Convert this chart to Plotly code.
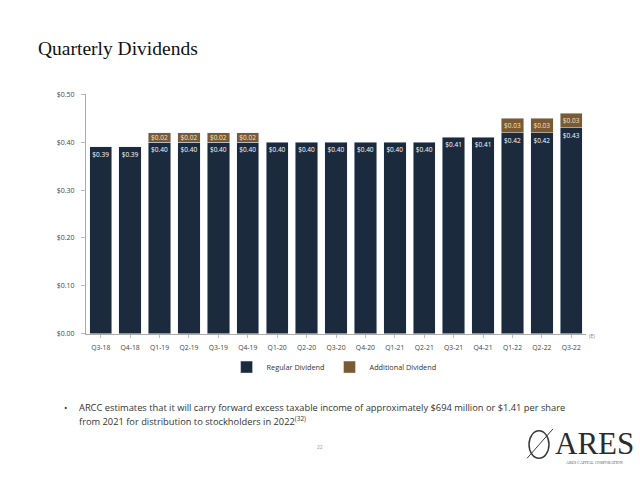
import plotly.graph_objects as go

quarters = ["Q3-18", "Q4-18", "Q1-19", "Q2-19", "Q3-19", "Q4-19", "Q1-20", "Q2-20", "Q3-20",
            "Q4-20", "Q1-21", "Q2-21", "Q3-21", "Q4-21", "Q1-22", "Q2-22", "Q3-22"]
regular = [0.39, 0.39, 0.40, 0.40, 0.40, 0.40, 0.40, 0.40, 0.40,
           0.40, 0.40, 0.40, 0.41, 0.41, 0.42, 0.42, 0.43]
additional = [None, None, 0.02, 0.02, 0.02, 0.02, None, None, None,
              None, None, None, None, None, 0.03, 0.03, 0.03]
y_ticks = [0.0, 0.1, 0.2, 0.3, 0.4, 0.5]

NAVY = "#1b2a3d"
BROWN = "#7a5a33"
FONT = "Open Sans"

fig = go.Figure()
fig.add_trace(go.Bar(
    x=quarters, y=regular, name="Regular Dividend", marker_color=NAVY,
    texttemplate="$%{y:.2f}", textposition="inside", insidetextanchor="end", textangle=0,
    constraintext="none", textfont=dict(color="white", size=6.5, family=FONT),
))
add_x = [q for q, a in zip(quarters, additional) if a]
add_y = [a for a in additional if a]
fig.add_trace(go.Bar(
    x=add_x, y=add_y, name="Additional Dividend", marker_color=BROWN,
    texttemplate="$%{y:.2f}", textposition="inside", textangle=0,
    insidetextanchor="middle", constraintext="none",
    textfont=dict(color="#f3e6c8", size=6.5, family=FONT),
))

x0, x1 = 86 / 640, 586 / 640
fig.update_layout(
    width=640, height=480, barmode="stack", bargap=0.24,
    margin=dict(l=0, r=0, t=0, b=0),
    paper_bgcolor="white", plot_bgcolor="white",
    font=dict(family=FONT, size=7, color="#444"),
    xaxis=dict(domain=[x0, x1], showline=True, linecolor="#aaa", linewidth=1,
               categoryorder="array", categoryarray=quarters,
               ticks="outside", ticklen=3, tickcolor="#bbb", ticklabelstandoff=4,
               tickfont=dict(size=6.8, color="#444", family=FONT)),
    yaxis=dict(domain=[1 - 335 / 480, 1 - 91 / 480], range=[0, 0.5],
               tickvals=y_ticks, ticktext=[f"${v:.2f}" for v in y_ticks],
               showline=True, linecolor="#aaa", linewidth=1, ticks="outside",
               ticklen=4, tickcolor="#bbb", showgrid=False, zeroline=False,
               ticklabelstandoff=5,
               tickfont=dict(size=7, color="#444", family=FONT)),
    showlegend=True,
    legend=dict(orientation="h", x=0.522, xanchor="center", y=1 - 369 / 480, yanchor="middle",
                font=dict(size=7.3, color="#333", family=FONT), itemwidth=30,
                traceorder="normal"),
)

fig.add_annotation(text="Quarterly Dividends", x=36 / 640, y=1 - 44 / 480, xref="paper", yref="paper",
                   xanchor="left", yanchor="middle", showarrow=False,
                   font=dict(family="Liberation Serif", size=19.5, color="#111"))
fig.add_annotation(text="(E)", x=592 / 640, y=1 - 337 / 480, xref="paper", yref="paper",
                   xanchor="center", yanchor="middle", showarrow=False,
                   font=dict(size=5, color="#777"))
fig.add_annotation(text="•", x=62 / 640, y=1 - 410 / 480, xref="paper", yref="paper",
                   xanchor="left", yanchor="middle", showarrow=False,
                   font=dict(size=9, color="#333", family=FONT))
fig.add_annotation(
    text="ARCC estimates that it will carry forward excess taxable income of approximately $694 million or $1.41 per share",
    x=77 / 640, y=1 - 410 / 480, xref="paper", yref="paper", xanchor="left", yanchor="middle",
    showarrow=False, font=dict(size=9.3, color="#333", family=FONT))
fig.add_annotation(
    text="from 2021 for distribution to stockholders in 2022<sup>(32)</sup>",
    x=77 / 640, y=1 - 424 / 480, xref="paper", yref="paper", xanchor="left", yanchor="middle",
    showarrow=False, font=dict(size=9.3, color="#333", family=FONT))
fig.add_annotation(text="22", x=320 / 640, y=1 - 456 / 480, xref="paper", yref="paper",
                   showarrow=False, font=dict(size=5, color="#999", family=FONT))
# logo
fig.add_shape(type="circle", xref="paper", yref="paper",
              x0=529 / 640, x1=549 / 640, y0=1 - 462 / 480, y1=1 - 434 / 480,
              line=dict(color="#3a3a3a", width=1.5))
fig.add_shape(type="line", xref="paper", yref="paper",
              x0=527 / 640, x1=553 / 640, y0=1 - 462 / 480, y1=1 - 432 / 480,
              line=dict(color="#3a3a3a", width=1))
fig.add_annotation(text="ARES", x=553 / 640, y=1 - 447 / 480, xref="paper", yref="paper",
                   xanchor="left", yanchor="middle", showarrow=False,
                   font=dict(family="Liberation Serif", size=31, color="#2b2b2b"))
fig.add_annotation(text="ARES CAPITAL CORPORATION", x=594 / 640, y=1 - 466 / 480, xref="paper", yref="paper",
                   xanchor="center", yanchor="middle", showarrow=False,
                   font=dict(family="Liberation Serif", size=4, color="#555"))

fig.write_html("out.html")
